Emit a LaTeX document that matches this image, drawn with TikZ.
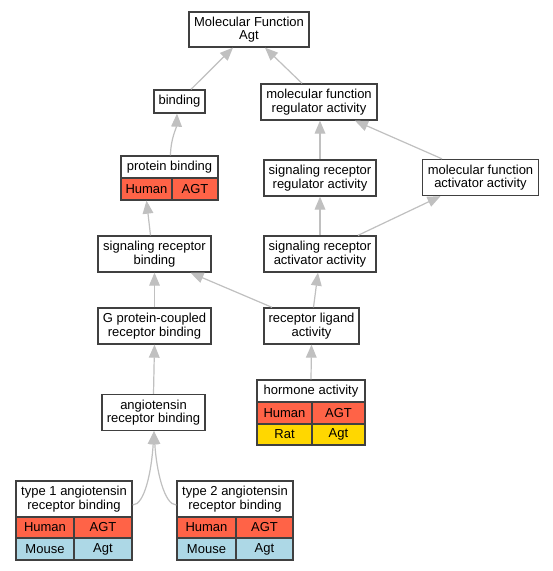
\documentclass[tikz,border=0pt]{standalone}
\usepackage{fontspec}
\setmainfont{Liberation Sans}
\usetikzlibrary{arrows.meta,calc}
\definecolor{human}{HTML}{FF6347}
\definecolor{mouse}{HTML}{ADD8E6}
\definecolor{rat}{HTML}{FFD700}
\definecolor{edgec}{HTML}{C0C0C0}
\definecolor{bordc}{HTML}{404040}
\begin{document}
\begin{tikzpicture}[x=0.75pt,y=-0.75pt,
  box/.style 2 args={draw=bordc,line width=1pt,fill=white,inner sep=0pt,align=center,
    minimum width=#1*0.75pt,minimum height=#2*0.75pt,
    font=\fontsize{9.75}{10}\selectfont},
  hcell/.style={fill=human},
  mcell/.style={fill=mouse},
  rcell/.style={fill=rat},
  edge/.style={draw=edgec,line width=0.9pt,-{Triangle[length=9.75pt,width=8pt,fill=edgec]}}]
\fill[white] (0,0) rectangle (553,571);
\useasboundingbox (0,0) rectangle (553,571);

% nodes
\node[box={120}{35}] (mf) at (249,29.5) {Molecular Function\\Agt};
\node[box={51}{23}] (bind) at (179.5,101.5) {binding};
\node[box={116}{36}] (mfr) at (319,102) {molecular function\\regulator activity};
\node[box={97}{22}] (pbT) at (169.5,167) {protein binding};
\node[box={51}{22},hcell] (pbH) at (146.5,189) {Human};
\node[box={46}{22},hcell] (pbA) at (195,189) {AGT};
\node[box={112}{36}] (srra) at (320,178) {signaling receptor\\regulator activity};
\node[box={116}{36}] (mfaa) at (480.5,177.5) {molecular function\\activator activity};
\node[box={113}{36}] (srb) at (154.5,254) {signaling receptor\\binding};
\node[box={112}{36}] (sraa) at (320,254) {signaling receptor\\activator activity};
\node[box={113}{36}] (gpc) at (154.5,326) {G protein-coupled\\receptor binding};
\node[box={95}{36}] (rla) at (311.5,326) {receptor ligand\\activity};
\node[box={108}{22}] (hT) at (311,391) {hormone activity};
\node[box={55}{22},hcell] (hH) at (284.5,413) {Human};
\node[box={53}{22},hcell] (hA) at (338.5,413) {AGT};
\node[box={55}{21},rcell] (hR) at (284.5,434.5) {Rat};
\node[box={53}{21},rcell] (hG) at (338.5,434.5) {Agt};
\node[box={103}{36}] (arb) at (153.5,412.5) {angiotensin\\receptor binding};
\node[box={116}{36}] (t1T) at (74,499) {type 1 angiotensin\\receptor binding};
\node[box={58}{21},hcell] (t1H) at (45,527.5) {Human};
\node[box={58}{21},hcell] (t1A) at (103,527.5) {AGT};
\node[box={58}{22},mcell] (t1M) at (45,549) {Mouse};
\node[box={58}{22},mcell] (t1G) at (103,549) {Agt};
\node[box={116}{36}] (t2T) at (235,499) {type 2 angiotensin\\receptor binding};
\node[box={59}{21},hcell] (t2H) at (206.5,527.5) {Human};
\node[box={57}{21},hcell] (t2A) at (264.5,527.5) {AGT};
\node[box={59}{22},mcell] (t2M) at (206.5,549) {Mouse};
\node[box={57}{22},mcell] (t2G) at (264.5,549) {Agt};

% edges
\draw[edge] ($(bind.north)+(11.5,0)$) -- ($(mf.south)+(-16,0)$);
\draw[edge] ($(mfr.north)+(-17,0)$) -- ($(mf.south)+(16,0)$);
\draw[edge] ($(pbT.north)+(1,0)$) .. controls ($(pbT.north)+(1,-16)$) and ($(bind.south)+(-3,14)$) .. ($(bind.south)+(-2.5,0)$);
\draw[edge] (srra.north) -- ($(mfr.south)+(1,0)$);
\draw[edge] ($(mfaa.north)+(-38.5,0)$) -- ($(mfr.south)+(36,0)$);
\draw[edge] ($(srb.north)+(-4,0)$) -- (pbH.south);
\draw[edge] (sraa.north) -- (srra.south);
\draw[edge] ($(sraa.north)+(38,0)$) -- ($(mfaa.south)+(-40,0)$);
\draw[edge] (gpc.north) -- (srb.south);
\draw[edge] ($(rla.north)+(-39.5,0)$) -- ($(srb.south)+(36,0)$);
\draw[edge] ($(rla.north)+(2,0)$) -- ($(sraa.south)+(-2,0)$);
\draw[edge] (hT.north) -- (rla.south);
\draw[edge] (arb.north) -- (gpc.south);
\draw[edge] ($(t1T.east)+(0,6)$) .. controls ($(t1T.east)+(12,6)$) and ($(arb.south)+(-2,40)$) .. ($(arb.south)+(0.5,0)$);
\draw[edge] ($(t2T.west)+(0,6)$) .. controls ($(t2T.west)+(-12,6)$) and ($(arb.south)+(3,40)$) .. ($(arb.south)+(0.5,0)$);
\end{tikzpicture}
\end{document}
